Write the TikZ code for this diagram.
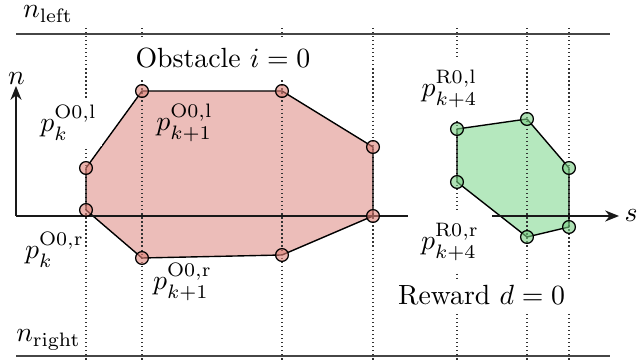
\documentclass[tikz,border=0pt]{standalone}
\usetikzlibrary{arrows.meta}
\definecolor{obsfill}{RGB}{236,189,185}
\definecolor{obsdot}{RGB}{222,128,118}
\definecolor{rewfill}{RGB}{181,232,190}
\definecolor{rewdot}{RGB}{120,205,130}
\definecolor{bound}{RGB}{70,70,70}
\begin{document}
\begin{tikzpicture}[x=0.36pt,y=-0.36pt,
  guide/.style={densely dotted, black!80, line width=0.45pt},
  boundary/.style={draw=bound, line width=0.7pt},
  axisline/.style={draw=black!90, line width=0.55pt, -{Stealth[length=5pt,width=4pt]}},
  poly/.style={draw=black, line width=0.5pt, line join=round},
  vtx/.style={circle, draw=black, line width=0.45pt, minimum size=4.6pt, inner sep=0pt, fill opacity=0.6},
  obsv/.style={vtx, fill=obsdot},
  rewv/.style={vtx, fill=rewdot},
  lbl/.style={fill=white, inner sep=2pt},
  plain/.style={inner sep=1pt},
]
\useasboundingbox (0,0) rectangle (637,361);

% vertices
\coordinate (O1) at (86,168);
\coordinate (O2) at (142,91);
\coordinate (O3) at (282,91);
\coordinate (O4) at (373,147);
\coordinate (O5) at (373,216);
\coordinate (O6) at (282,255);
\coordinate (O7) at (142,258);
\coordinate (O8) at (86,210);
\coordinate (R1) at (457,129);
\coordinate (R2) at (527,119);
\coordinate (R3) at (569,168);
\coordinate (R4) at (569,227);
\coordinate (R5) at (527,237);
\coordinate (R6) at (457,182);

% polygons
\fill[obsfill] (O1) -- (O2) -- (O3) -- (O4) -- (O5) -- (O6) -- (O7) -- (O8) -- cycle;
\fill[rewfill] (R1) -- (R2) -- (R3) -- (R4) -- (R5) -- (R6) -- cycle;

% guide lines
\foreach \gx/\gn in {86/a,142/b,282/c,373/d,457/e,527/f,569/g} {
  \coordinate (gt\gn) at (\gx,28);
  \coordinate (gb\gn) at (\gx,361);
  \draw[guide] (gt\gn) -- (gb\gn);
}

\draw[poly] (O1) -- (O2) -- (O3) -- (O4) -- (O5) -- (O6) -- (O7) -- (O8) -- cycle;
\draw[poly] (R1) -- (R2) -- (R3) -- (R4) -- (R5) -- (R6) -- cycle;

% road boundaries
\coordinate (L1) at (16,34);
\coordinate (L2) at (610,34);
\coordinate (Rr1) at (16,356);
\coordinate (Rr2) at (610,356);
\draw[boundary] (L1) -- (L2);
\draw[boundary] (Rr1) -- (Rr2);

% axes
\coordinate (orig) at (16,216);
\coordinate (send) at (619,216);
\coordinate (nend) at (16,86);
\draw[axisline] (orig) -- (send);
\draw[axisline] (orig) -- (nend);

% vertex markers
\foreach \v in {O1,O2,O3,O4,O5,O6,O7,O8} \node[obsv] (m\v) at (\v) {};
\foreach \v in {R1,R2,R3,R4,R5,R6} \node[rewv] (m\v) at (\v) {};

% labels
\node[plain, anchor=base] (nl) at (48,18) {$n_\mathrm{left}$};
\node[plain, anchor=base] (nr) at (48.5,342) {$n_\mathrm{right}$};
\node[lbl, inner sep=4pt, anchor=base] (obs) at (223,68) {Obstacle $i=0$};
\node[lbl, anchor=base] (rew) at (481.5,305) {Reward $d=0$};
\node[lbl, anchor=base] (pkl) at (68.5,132) {$p_k^{\mathrm{O0,l}}$};
\node[plain, anchor=base] (pk1l) at (184.5,131) {$p_{k+1}^{\mathrm{O0,l}}$};
\node[plain, anchor=base] (pkr) at (54.5,259) {$p_k^{\mathrm{O0,r}}$};
\node[plain, anchor=base] (pk1r) at (182.5,290) {$p_{k+1}^{\mathrm{O0,r}}$};
\node[lbl, inner sep=3.8pt, anchor=base] (prl) at (449.5,97) {$p_{k+4}^{\mathrm{R0,l}}$};
\node[lbl, inner sep=4.6pt, anchor=base] (prr) at (450,250) {$p_{k+4}^{\mathrm{R0,r}}$};
\node[plain, anchor=base] (nlab) at (16.5,85) {$n$};
\node[plain, anchor=base] (slab) at (631,222) {$s$};
\end{tikzpicture}
\end{document}
